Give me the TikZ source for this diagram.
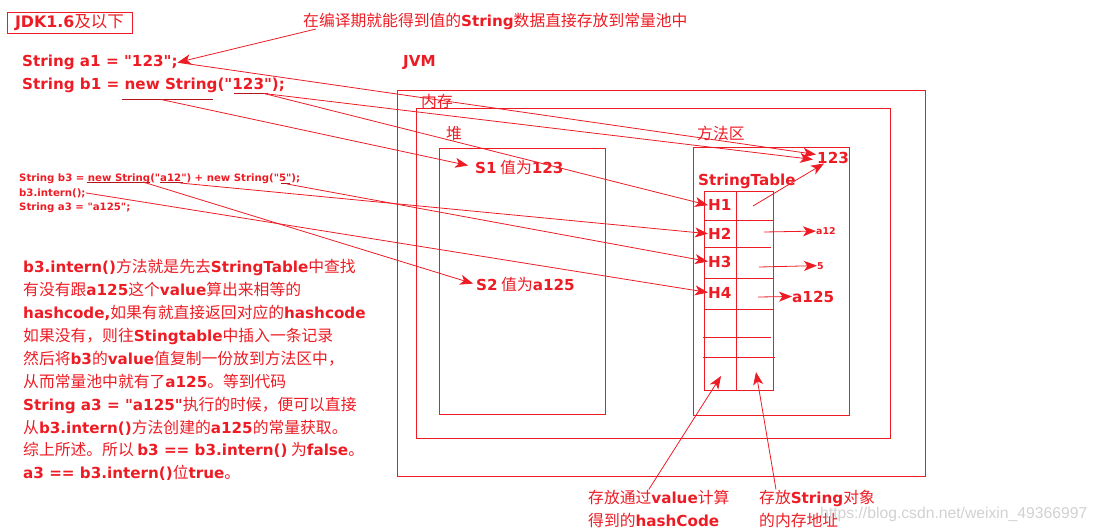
\documentclass[tikz,border=0pt]{standalone}
\usepackage{fontspec}
\setmainfont{Noto Sans CJK SC}
\newfontfamily\latfont{DejaVu Sans}[Scale=0.96]
\newfontfamily\wmfont{Liberation Sans}
\newcommand\lb[1]{{\latfont\bfseries #1}}
\usetikzlibrary{arrows.meta}
\definecolor{pred}{RGB}{237,28,36}

\begin{document}
\begin{tikzpicture}[x=1pt, y=-1pt,
	txt/.style={anchor=base west, inner sep=0pt, text=pred, font=\fontsize{15.8}{18}\selectfont},
	small/.style={txt, font=\fontsize{10.6}{12}\selectfont},
	tiny/.style={txt, font=\fontsize{9.8}{11}\selectfont},
	box/.style={draw=pred, line width=0.9pt},
	grid/.style={draw=pred, line width=0.8pt},
	uline/.style={draw=pred!75!black, line width=1pt},
	arr/.style={draw=pred, line width=0.8pt, -{Stealth[length=13pt, width=10pt, inset=3.5pt]}}]
	\useasboundingbox (0, 0) rectangle (1096, 530);
	\node (jdk) at (69.5, 22.5) [box, text=pred, font=\fontsize{16.5}{18}\selectfont, minimum width=125pt, minimum height=21pt, inner sep=0pt] {\lb{JDK1.6}及以下};
	\node (note) at (303, 27) [txt] {在编译期就能得到值的\lb{String}数据直接存放到常量池中};
	\node (a1) at (22, 66.5) [txt] {\lb{String a1 = "123";}};
	\node (b1) at (22, 89) [txt] {\lb{String b1 = new String("123");}};
	\node (b3) at (19, 181) [small] {\lb{String b3 = new String("a12") + new String("5");}};
	\node (intern) at (19, 196) [small] {\lb{b3.intern();}};
	\node (a3) at (19, 210) [small] {\lb{String a3 = "a125";}};
	\draw [uline] (122, 99) -- (213, 99);
	\draw [uline] (234, 93) -- (268, 93);
	\draw [uline] (87, 182) -- (150, 182);
	\draw [uline] (160, 182.5) -- (183, 182.5);
	\draw [uline] (281, 183.5) -- (290, 183.5);
	\coordinate (b1new) at (161, 99.5);
	\coordinate (b1val) at (264, 93.5);
	\coordinate (b3new) at (143, 182);
	\coordinate (b3a12) at (180, 183);
	\coordinate (b3five) at (287, 184);
	\node (p1) at (23, 272.7) [txt] {\lb{b3.intern()}方法就是先去\lb{StringTable}中查找};
	\node (p2) at (23, 295.6) [txt] {有没有跟\lb{a125}这个\lb{value}算出来相等的};
	\node (p3) at (23, 318.5) [txt] {\lb{hashcode,}如果有就直接返回对应的\lb{hashcode}};
	\node (p4) at (23, 341.4) [txt] {如果没有，则往\lb{Stingtable}中插入一条记录};
	\node (p5) at (23, 364.3) [txt] {然后将\lb{b3}的\lb{value}值复制一份放到方法区中，};
	\node (p6) at (23, 387.2) [txt] {从而常量池中就有了\lb{a125}。等到代码};
	\node (p7) at (23, 410.1) [txt] {\lb{String a3 = "a125"}执行的时候，便可以直接};
	\node (p8) at (23, 433) [txt] {从\lb{b3.intern()}方法创建的\lb{a125}的常量获取。};
	\node (p9) at (23, 455.9) [txt] {综上所述。所以 \lb{b3 == b3.intern()} 为\lb{false}。};
	\node (p10) at (23, 478.8) [txt] {\lb{a3 == b3.intern()}位\lb{true}。};
	\node (jvm) at (403, 66) [txt] {\lb{JVM}};
	\draw [box] (397, 90) rectangle (925.5, 476);
	\node (mem) at (421, 107) [txt] {内存};
	\draw [box] (416, 108) rectangle (890, 438);
	\node (heap) at (446, 139) [txt] {堆};
	\node (marea) at (697, 139) [txt] {方法区};
	\draw [box] (439, 148.5) rectangle (605.5, 414.5);
	\draw [box] (693.5, 147.5) rectangle (849.5, 415.5);
	\node (s1) at (475, 173) [txt] {\lb{S1} 值为\lb{123}};
	\node (s2) at (476, 290.5) [txt] {\lb{S2} 值为\lb{a125}};
	\node (t123) at (817, 163) [txt] {\lb{123}};
	\node (stab) at (698, 185) [txt] {\lb{StringTable}};
	\draw [grid] (704.5, 191) rectangle (773.5, 390);
	\draw [grid] (736.5, 191) -- (736.5, 390);
	\draw [grid] (704.5, 220) -- (773.5, 220);
	\draw [grid] (705, 247) -- (771, 247);
	\draw [grid] (704.5, 278.5) -- (773.5, 278.5);
	\draw [grid] (704.5, 309) -- (773.5, 309);
	\draw [grid] (703, 337) -- (771, 337);
	\draw [grid] (703, 357) -- (775, 357);
	\node (h1) at (708, 210.7) [txt] {\lb{H1}};
	\node (h2) at (708, 239.3) [txt] {\lb{H2}};
	\node (h3) at (708, 267) [txt] {\lb{H3}};
	\node (h4) at (708, 298) [txt] {\lb{H4}};
	\coordinate (c1) at (753, 206);
	\coordinate (c2) at (764, 232);
	\coordinate (c3) at (759, 267);
	\coordinate (c4) at (758, 297);
	\coordinate (hashcell) at (721, 376);
	\coordinate (addrcell) at (756, 372);
	\node (va12) at (816, 234.5) [tiny] {\lb{a12}};
	\node (vfive) at (817, 269) [tiny] {\lb{5}};
	\node (va125) at (792, 302) [txt] {\lb{a125}};
	\node (n1) at (588, 503) [txt] {存放通过\lb{value}计算};
	\node (n1b) at (588, 526) [txt] {得到的\lb{hashCode}};
	\node (n2) at (759, 503) [txt] {存放\lb{String}对象};
	\node (n2b) at (759, 526) [txt] {的内存地址};
	\draw [arr] ([xshift=13pt, yshift=-2pt]note.base west) -- (a1.east);
	\draw [arr] (a1.east) -- ([xshift=-1pt, yshift=3pt]t123.west);
	\draw [arr] (b1val) -- ([xshift=-4pt, yshift=-2pt]t123.west);
	\draw [arr] (b1val) -- (h1.west);
	\draw [arr, shorten >=7pt] (b1new) -- (s1.west);
	\draw [arr, shorten >=3pt] (b3new) -- (s2.west);
	\draw [arr] (b3a12) -- (h2.west);
	\draw [arr] (b3five) -- (h3.west);
	\draw [arr] (intern.east) -- (h4.west);
	\draw [arr] (c1) -- ([xshift=7pt]t123.south west);
	\draw [arr] (c2) -- (va12.west);
	\draw [arr] (c3) -- (vfive.west);
	\draw [arr] (c4) -- (va125.west);
	\draw [arr] ([xshift=-10pt]n1.north) -- (hashcell);
	\draw [arr] ([xshift=17pt]n2.north west) -- (addrcell);
	\node (wm) at (820, 518) [anchor=base west, inner sep=0pt, text=black!18, font=\wmfont\fontsize{15.7}{18}\selectfont] {https://blog.csdn.net/weixin\_49366997};
\end{tikzpicture}
\end{document}
